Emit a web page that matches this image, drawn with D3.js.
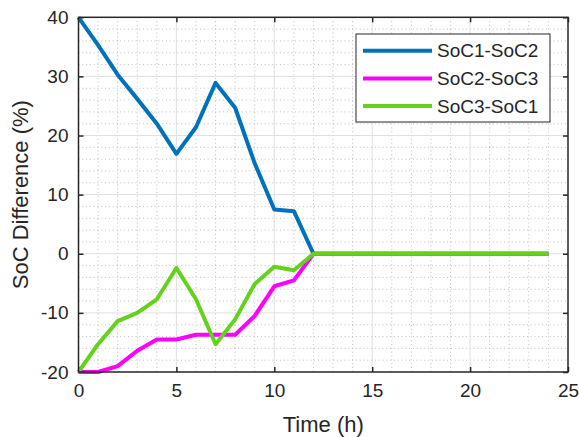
<!DOCTYPE html>
<html>
<head>
<meta charset="utf-8">
<script src="https://d3js.org/d3.v7.min.js"></script>
<style>
  body { margin: 0; background: #fff; }
  text { font-family: "Liberation Sans", Arial, sans-serif; fill: #262626; }
</style>
</head>
<body>
<svg width="579" height="437"></svg>
<script>
// data
var hours = d3.range(0, 25);
var soc12 = [40, 35.3, 30.3, 26.2, 22, 16.9, 21.4, 28.9, 24.7, 15.3, 7.5, 7.2, 0,
             0, 0, 0, 0, 0, 0, 0, 0, 0, 0, 0, 0];
var soc23 = [-20, -20, -19, -16.4, -14.5, -14.5, -13.7, -13.7, -13.7, -10.5, -5.5, -4.5, 0,
             0, 0, 0, 0, 0, 0, 0, 0, 0, 0, 0, 0];
var soc31 = [-20, -15.3, -11.4, -10, -7.7, -2.4, -7.7, -15.3, -11.1, -5.1, -2.2, -2.8, 0,
             0, 0, 0, 0, 0, 0, 0, 0, 0, 0, 0, 0];
var seriesNames = ["SoC1-SoC2", "SoC2-SoC3", "SoC3-SoC1"];
var seriesColors = ["#0072BD", "#FF00FF", "#64D21C"];
var xTicks = [0, 5, 10, 15, 20, 25];
var yTicks = [-20, -10, 0, 10, 20, 30, 40];

var svg = d3.select("svg");
// plot box (window.top is reserved, hence the p prefix)
var pLeft = 78.5, pTop = 17.3, pRight = 568, pBottom = 372;

var x = d3.scaleLinear().domain([0, 25]).range([pLeft, pRight]);
var y = d3.scaleLinear().domain([-20, 40]).range([pBottom, pTop]);

//minor grid (dotted)
var g = svg.append("g");
g.selectAll(".mx").data(d3.range(0, 26).filter(function(d){ return d % 5 != 0; }))
  .enter().append("line")
  .attr("x1", function(d){ return x(d); }).attr("x2", function(d){ return x(d); })
  .attr("y1", pTop).attr("y2", pBottom)
  .attr("stroke", "#b8b8b8").attr("stroke-width", 0.9).attr("stroke-dasharray", "1,2.8");
g.selectAll(".my").data(d3.range(-20, 41, 2).filter(function(d){ return d % 10 != 0; }))
  .enter().append("line")
  .attr("y1", function(d){ return y(d); }).attr("y2", function(d){ return y(d); })
  .attr("x1", pLeft).attr("x2", pRight)
  .attr("stroke", "#b8b8b8").attr("stroke-width", 0.9).attr("stroke-dasharray", "1,2.8");

//major grid
g.selectAll(".gx").data(xTicks.slice(1, -1)).enter().append("line")
  .attr("x1", function(d){ return x(d); }).attr("x2", function(d){ return x(d); })
  .attr("y1", pTop).attr("y2", pBottom)
  .attr("stroke", "#e0e0e0").attr("stroke-width", 1);
g.selectAll(".gy").data(yTicks.slice(1, -1)).enter().append("line")
  .attr("y1", function(d){ return y(d); }).attr("y2", function(d){ return y(d); })
  .attr("x1", pLeft).attr("x2", pRight)
  .attr("stroke", "#e0e0e0").attr("stroke-width", 1);

//axes, ticks inward on all four sides; plain hyphen for negatives like the original
var fmt = function(d) { return String(d); };
var xAxis = d3.axisBottom(x).tickValues(xTicks).tickFormat(fmt).tickSizeInner(-5).tickSizeOuter(0).tickPadding(12);
var yAxis = d3.axisLeft(y).tickValues(yTicks).tickFormat(fmt).tickSizeInner(-5).tickSizeOuter(0).tickPadding(10);
var xa = svg.append("g").attr("transform", "translate(0," + pBottom + ")").call(xAxis);
var ya = svg.append("g").attr("transform", "translate(" + pLeft + ",0)").call(yAxis);
var xt = svg.append("g").attr("transform", "translate(0," + pTop + ")")
  .call(d3.axisTop(x).tickValues(xTicks).tickSizeInner(-5).tickSizeOuter(0).tickFormat(""));
var yr = svg.append("g").attr("transform", "translate(" + pRight + ",0)")
  .call(d3.axisRight(y).tickValues(yTicks).tickSizeInner(-5).tickSizeOuter(0).tickFormat(""));
[xa, ya, xt, yr].forEach(function(a) {
  a.select(".domain").remove();
  a.selectAll("line").attr("stroke", "#262626").attr("stroke-width", 1.5);
  a.selectAll("text").style("font-size", "19px").attr("fill", "#262626")
    .style("font-family", "'Liberation Sans', Arial, sans-serif");
});

//the lines
var line = d3.line().x(function(d){ return x(d[0]); }).y(function(d){ return y(d[1]); });
[soc12, soc23, soc31].forEach(function(s, i) {
  svg.append("path")
    .datum(hours.map(function(h, j){ return [h, s[j]]; }))
    .attr("d", line)
    .attr("fill", "none")
    .attr("stroke", seriesColors[i])
    .attr("stroke-width", 4)
    .attr("stroke-linejoin", "round");
});

//box
svg.append("rect").attr("x", pLeft).attr("y", pTop)
  .attr("width", pRight - pLeft).attr("height", pBottom - pTop)
  .attr("fill", "none").attr("stroke", "#262626").attr("stroke-width", 1.5);

//axis labels
svg.append("text").attr("x", (pLeft + pRight) / 2).attr("y", 432)
  .attr("text-anchor", "middle").style("font-size", "22px").text("Time (h)");
svg.append("text").attr("transform", "translate(28," + ((pTop + pBottom) / 2) + ") rotate(-90)")
  .attr("text-anchor", "middle").style("font-size", "22px").text("SoC Difference (%)");

//legend
var leg = svg.append("g");
leg.append("rect").attr("x", 356).attr("y", 34).attr("width", 194).attr("height", 88)
  .attr("fill", "#fff").attr("stroke", "#262626").attr("stroke-width", 1);
seriesNames.forEach(function(n, i) {
  var ly = 50.7 + i * 27.7;
  leg.append("line").attr("x1", 363).attr("x2", 432).attr("y1", ly).attr("y2", ly)
    .attr("stroke", seriesColors[i]).attr("stroke-width", 4);
  leg.append("text").attr("x", 437).attr("y", ly).attr("dy", "0.35em")
    .style("font-size", "19px").text(n);
});
</script>
</body>
</html>
